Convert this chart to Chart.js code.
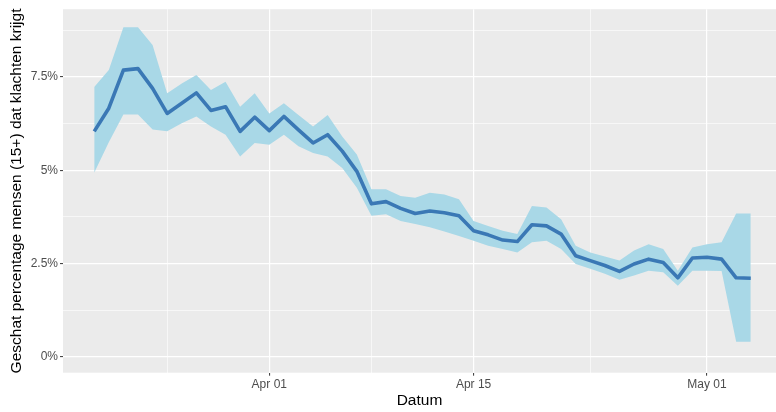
<!DOCTYPE html>
<html>
<head>
<meta charset="utf-8">
<script src="https://cdn.jsdelivr.net/npm/chart.js@4.4.1/dist/chart.umd.min.js"></script>
<style>
  html, body { margin: 0; padding: 0; background: #ffffff; }
  #wrap { width: 776px; height: 412px; position: relative; }
</style>
</head>
<body>
<div id="wrap"><canvas id="c"></canvas></div>
<script>
// ---- data ----
const dates = [
  '2020-03-20','2020-03-21','2020-03-22','2020-03-23','2020-03-24','2020-03-25','2020-03-26','2020-03-27',
  '2020-03-28','2020-03-29','2020-03-30','2020-03-31','2020-04-01','2020-04-02','2020-04-03','2020-04-04',
  '2020-04-05','2020-04-06','2020-04-07','2020-04-08','2020-04-09','2020-04-10','2020-04-11','2020-04-12',
  '2020-04-13','2020-04-14','2020-04-15','2020-04-16','2020-04-17','2020-04-18','2020-04-19','2020-04-20',
  '2020-04-21','2020-04-22','2020-04-23','2020-04-24','2020-04-25','2020-04-26','2020-04-27','2020-04-28',
  '2020-04-29','2020-04-30','2020-05-01','2020-05-02','2020-05-03','2020-05-04'
];
const estimate = [
  6.04, 6.66, 7.68, 7.72, 7.19, 6.52, 6.79, 7.07, 6.60, 6.70, 6.04, 6.42,
  6.06, 6.44, 6.08, 5.73, 5.95, 5.51, 4.97, 4.10, 4.16, 3.98, 3.84, 3.91,
  3.86, 3.78, 3.38, 3.27, 3.13, 3.09, 3.54, 3.51, 3.29, 2.71, 2.58, 2.45,
  2.29, 2.49, 2.62, 2.53, 2.12, 2.65, 2.67, 2.62, 2.12, 2.11
];
const lower = [
  4.93, 5.75, 6.49, 6.49, 6.09, 6.04, 6.26, 6.44, 6.17, 5.95, 5.37, 5.73,
  5.68, 5.95, 5.64, 5.46, 5.37, 5.06, 4.53, 3.78, 3.82, 3.64, 3.56, 3.47,
  3.36, 3.24, 3.11, 2.98, 2.89, 2.80, 3.07, 3.11, 2.89, 2.49, 2.36, 2.23,
  2.07, 2.18, 2.31, 2.27, 1.91, 2.31, 2.31, 2.30, 0.41, 0.41
];
const upper = [
  7.23, 7.68, 8.83, 8.83, 8.35, 7.06, 7.32, 7.55, 7.15, 7.37, 6.70, 7.06,
  6.52, 6.79, 6.48, 6.17, 6.48, 5.90, 5.42, 4.49, 4.49, 4.31, 4.26, 4.40,
  4.35, 4.22, 3.64, 3.51, 3.38, 3.29, 4.04, 4.00, 3.69, 2.98, 2.80, 2.69,
  2.58, 2.85, 3.02, 2.89, 2.31, 2.93, 3.02, 3.07, 3.84, 3.84
];
const xMajorDates  = ['2020-04-01', '2020-04-15', '2020-05-01'];
const xMajorLabels = ['Apr 01', 'Apr 15', 'May 01'];
const xMinorDates  = ['2020-03-25', '2020-04-08', '2020-04-23'];
const yMajorValues = [0, 2.5, 5, 7.5];
const yMajorLabels = ['0%', '2.5%', '5%', '7.5%'];
const yMinorValues = [1.25, 3.75, 6.25, 8.75];
const xTitle = 'Datum';
const yTitle = 'Geschat percentage mensen (15+) dat klachten krijgt';

// ---- helpers ----
const DAY = 86400000;
const origin = Date.parse(dates[0] + 'T00:00:00Z');
const dayOf = s => (Date.parse(s + 'T00:00:00Z') - origin) / DAY;

const pts = arr => arr.map((v, i) => ({ x: dayOf(dates[i]), y: v }));
const xMajor = xMajorDates.map(dayOf);
const xMinor = xMinorDates.map(dayOf);
const xTicksAll = [...xMinor, ...xMajor].sort((a, b) => a - b);
const yTicksAll = [...yMajorValues, ...yMinorValues].sort((a, b) => a - b);
const isMajorX = v => xMajor.some(m => Math.abs(m - v) < 1e-6);
const isMajorY = v => yMajorValues.some(m => Math.abs(m - v) < 1e-6);

const FONT = "'Liberation Sans', Arial, sans-serif";

const panelBg = {
  id: 'panelBg',
  beforeDraw(chart) {
    const { ctx, chartArea: a } = chart;
    ctx.save();
    ctx.fillStyle = '#EBEBEB';
    ctx.fillRect(a.left, a.top, a.right - a.left, a.bottom - a.top);
    ctx.restore();
  }
};

new Chart(document.getElementById('c'), {
  type: 'line',
  data: {
    datasets: [
      { label: 'lower', data: pts(lower), borderWidth: 0, pointRadius: 0, fill: false,
        borderColor: 'rgba(0,0,0,0)', tension: 0, order: 2 },
      { label: 'upper', data: pts(upper), borderWidth: 0, pointRadius: 0, fill: '-1',
        backgroundColor: '#A9D8E7', borderColor: 'rgba(0,0,0,0)', tension: 0, order: 1 },
      { label: 'schatting', data: pts(estimate), borderWidth: 3.6, pointRadius: 0, fill: false,
        borderColor: '#3A78B5', tension: 0, order: 0, borderJoinStyle: 'round', borderCapStyle: 'butt' }
    ]
  },
  options: {
    responsive: true,
    maintainAspectRatio: false,
    animation: false,
    devicePixelRatio: 1,
    layout: { padding: { top: 7, right: 0, left: 0, bottom: 0 } },
    plugins: { legend: { display: false }, tooltip: { enabled: false } },
    scales: {
      x: {
        type: 'linear',
        min: -2.14,
        max: 46.73,
        afterBuildTicks: s => { s.ticks = xTicksAll.map(v => ({ value: v })); },
        afterFit: s => { s.height = 39.3; },
        border: { display: false },
        grid: {
          drawTicks: true,
          tickLength: 3,
          color: '#FFFFFF',
          lineWidth: ctx => (ctx.tick && isMajorX(ctx.tick.value)) ? 1.2 : 0.6,
          tickColor: ctx => (ctx.tick && isMajorX(ctx.tick.value)) ? '#333333' : 'rgba(0,0,0,0)',
          tickWidth: 1
        },
        ticks: {
          autoSkip: false,
          maxRotation: 0,
          minRotation: 0,
          padding: 2,
          color: '#4D4D4D',
          font: { family: FONT, size: 12 },
          callback: v => { const k = xMajor.findIndex(m => Math.abs(m - v) < 1e-6); return k >= 0 ? xMajorLabels[k] : ''; }
        },
        title: {
          display: true,
          text: xTitle,
          color: '#000000',
          font: { family: FONT, size: 15.5 },
          padding: { top: 0, bottom: 2 }
        }
      },
      y: {
        type: 'linear',
        min: -0.42,
        max: 9.31,
        afterBuildTicks: s => { s.ticks = yTicksAll.map(v => ({ value: v })); },
        afterFit: s => { s.width = 63; },
        border: { display: false },
        grid: {
          drawTicks: true,
          tickLength: 3,
          color: '#FFFFFF',
          lineWidth: ctx => (ctx.tick && isMajorY(ctx.tick.value)) ? 1.2 : 0.6,
          tickColor: ctx => (ctx.tick && isMajorY(ctx.tick.value)) ? '#333333' : 'rgba(0,0,0,0)',
          tickWidth: 1
        },
        ticks: {
          autoSkip: false,
          padding: 2,
          color: '#4D4D4D',
          font: { family: FONT, size: 12 },
          callback: v => { const k = yMajorValues.findIndex(m => Math.abs(m - v) < 1e-6); return k >= 0 ? yMajorLabels[k] : ''; }
        },
        title: {
          display: true,
          text: yTitle,
          color: '#000000',
          font: { family: FONT, size: 15.5 },
          padding: { top: 7, bottom: 0 }
        }
      }
    }
  },
  plugins: [panelBg]
});
</script>
</body>
</html>
